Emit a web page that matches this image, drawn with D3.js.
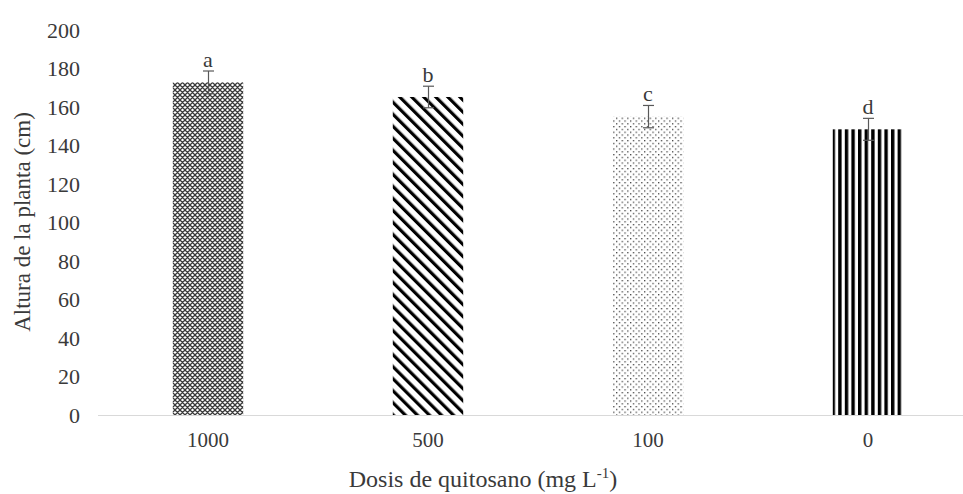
<!DOCTYPE html>
<html>
<head>
<meta charset="utf-8">
<script src="https://cdn.jsdelivr.net/npm/d3@7"></script>
<style>
  html, body { margin: 0; padding: 0; background: #fff; }
  svg { display: block; }
  text { font-family: "Liberation Serif", "Times New Roman", serif; fill: #3a3a3a; }
</style>
</head>
<body>
<svg id="chart" width="963" height="494"></svg>
<script>
'use strict';
const doses = ['1000', '500', '100', '0'];
const heights = [172.8, 165.2, 155.0, 148.4];
const errors = [5.9, 5.6, 5.8, 5.7];
const letters = ['a', 'b', 'c', 'd'];
const patterns = ['pat-mesh', 'pat-diag', 'pat-dots', 'pat-vert'];
const yTicks = [0, 20, 40, 60, 80, 100, 120, 140, 160, 180, 200];

const svg = d3.select('#chart');
const mLeft = 98, mRight = 978, mTop = 30, mBottom = 415;

const x = d3.scaleBand().domain(doses).range([mLeft, mRight]).paddingInner(0.68).paddingOuter(0.34);
const y = d3.scaleLinear().domain([0, 200]).range([mBottom, mTop]);

// patterns
const defs = svg.append('defs');
// diamond mesh
const p1 = defs.append('pattern').attr('id', 'pat-mesh').attr('patternUnits', 'userSpaceOnUse')
  .attr('width', 5).attr('height', 5);
p1.append('rect').attr('width', 5).attr('height', 5).attr('fill', '#fff');
p1.append('path').attr('d', 'M0,0 L5,5 M5,0 L0,5 M-1,4 L1,6 M4,-1 L6,1 M-1,1 L1,-1 M4,6 L6,4')
  .attr('stroke', '#3a3a3a').attr('stroke-width', 1.3);
// wide downward diagonal
const p2 = defs.append('pattern').attr('id', 'pat-diag').attr('patternUnits', 'userSpaceOnUse')
  .attr('width', 8.5).attr('height', 8.5).attr('patternTransform', 'rotate(-45)');
p2.append('rect').attr('width', 8.5).attr('height', 8.5).attr('fill', '#fff');
p2.append('rect').attr('width', 3.2).attr('height', 8.5).attr('fill', '#000');
// sparse dots
const p3 = defs.append('pattern').attr('id', 'pat-dots').attr('patternUnits', 'userSpaceOnUse')
  .attr('width', 5.6).attr('height', 5.6);
p3.append('rect').attr('width', 5.6).attr('height', 5.6).attr('fill', '#fff');
p3.append('rect').attr('x', 0).attr('y', 0).attr('width', 1.3).attr('height', 1.3).attr('fill', '#444');
p3.append('rect').attr('x', 2.8).attr('y', 2.8).attr('width', 1.3).attr('height', 1.3).attr('fill', '#444');
// wide vertical stripes
const p4 = defs.append('pattern').attr('id', 'pat-vert').attr('patternUnits', 'userSpaceOnUse')
  .attr('width', 6.6).attr('height', 10);
p4.append('rect').attr('width', 6.6).attr('height', 10).attr('fill', '#fff');
p4.append('rect').attr('width', 3.4).attr('height', 10).attr('fill', '#000');

// x axis baseline
svg.append('line').attr('x1', mLeft).attr('x2', mRight).attr('y1', y(0) + 0.5).attr('y2', y(0) + 0.5)
  .attr('stroke', '#d9d9d9').attr('stroke-width', 1);

// y tick labels
svg.append('g').selectAll('text').data(yTicks).join('text')
  .attr('x', 80).attr('y', d => y(d)).attr('dy', '0.35em')
  .attr('text-anchor', 'end').attr('font-size', 22).text(d => d);

// bars
svg.append('g').selectAll('rect').data(doses).join('rect')
  .attr('x', d => x(d)).attr('width', x.bandwidth())
  .attr('y', (d, i) => y(heights[i])).attr('height', (d, i) => y(0) - y(heights[i]))
  .attr('fill', (d, i) => `url(#${patterns[i]})`);

// error bars
const eb = svg.append('g').attr('stroke', '#595959').attr('stroke-width', 1.2).attr('fill', 'none');
doses.forEach((d, i) => {
  const cx = Math.round(x(d) + x.bandwidth() / 2) + 0.5;
  const hi = y(heights[i] + errors[i]), lo = y(heights[i] - errors[i]);
  eb.append('line').attr('x1', cx).attr('x2', cx).attr('y1', hi).attr('y2', lo);
  eb.append('line').attr('x1', cx - 5.5).attr('x2', cx + 5.5).attr('y1', hi).attr('y2', hi);
  eb.append('line').attr('x1', cx - 5.5).attr('x2', cx + 5.5).attr('y1', lo).attr('y2', lo);
});

// significance letters
svg.append('g').selectAll('text').data(doses).join('text')
  .attr('x', d => x(d) + x.bandwidth() / 2)
  .attr('y', (d, i) => y(heights[i] + errors[i]) - 4)
  .attr('text-anchor', 'middle').attr('font-size', 22)
  .text((d, i) => letters[i]);

// x tick labels
svg.append('g').selectAll('text').data(doses).join('text')
  .attr('x', d => x(d) + x.bandwidth() / 2).attr('y', 440).attr('dy', '0.35em')
  .attr('text-anchor', 'middle').attr('font-size', 21).text(d => d);

// axis titles
const xt = svg.append('text').attr('x', 483).attr('y', 487).attr('text-anchor', 'middle').attr('font-size', 24);
xt.append('tspan').text('Dosis de quitosano (mg L');
xt.append('tspan').attr('dy', -9).attr('font-size', 15).text('-1');
xt.append('tspan').attr('dy', 9).text(')');

svg.append('text').attr('transform', 'translate(30,222) rotate(-90)')
  .attr('text-anchor', 'middle').attr('font-size', 23).text('Altura de la planta (cm)');
</script>
</body>
</html>
